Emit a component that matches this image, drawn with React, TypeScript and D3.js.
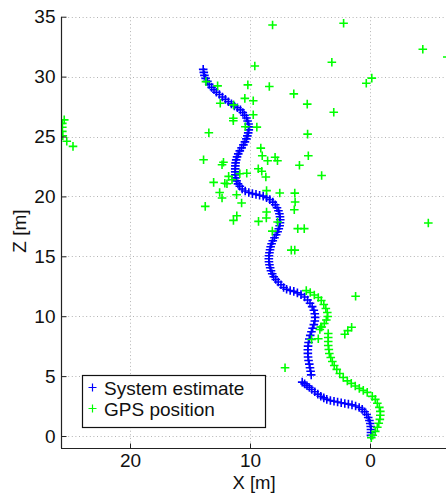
import { useEffect, useRef } from "react";
import * as d3 from "d3";

// System estimate trajectory, [X, Z] in metres
const estimateTrack1: [number, number][] = [
  [13.9, 30.6], [13.85, 30.35], [13.8, 30.1], [13.7, 29.85], [13.55, 29.6], [13.4, 29.35],
  [13.2, 29.1], [13.0, 28.9], [12.8, 28.7], [12.55, 28.5], [12.3, 28.3], [12.05, 28.1],
  [11.8, 27.9], [11.55, 27.72], [11.3, 27.55], [11.05, 27.4], [10.8, 27.22], [10.6, 27.0],
  [10.45, 26.78], [10.3, 26.55], [10.2, 26.3], [10.12, 26.05], [10.1, 25.8], [10.1, 25.55],
  [10.15, 25.3], [10.22, 25.05], [10.3, 24.8], [10.42, 24.55], [10.55, 24.3], [10.7, 24.05],
  [10.85, 23.8], [10.98, 23.55], [11.08, 23.3], [11.15, 23.05], [11.2, 22.8], [11.22, 22.55],
  [11.23, 22.3], [11.23, 22.05], [11.22, 21.8], [11.2, 21.55], [11.12, 21.3], [11.0, 21.05],
  [10.85, 20.85], [10.65, 20.62], [10.4, 20.45], [10.1, 20.32], [9.8, 20.23], [9.5, 20.17],
  [9.2, 20.1], [8.9, 20.02], [8.62, 19.9], [8.35, 19.73], [8.1, 19.52], [7.9, 19.3],
  [7.75, 19.05], [7.63, 18.8], [7.55, 18.55], [7.5, 18.3], [7.48, 18.05], [7.5, 17.8],
  [7.53, 17.55], [7.6, 17.3], [7.7, 17.05], [7.82, 16.8], [7.96, 16.55], [8.1, 16.3],
  [8.2, 16.05], [8.28, 15.8], [8.33, 15.55], [8.38, 15.3], [8.42, 15.05], [8.43, 14.8],
  [8.42, 14.55], [8.38, 14.3], [8.32, 14.05], [8.25, 13.8], [8.15, 13.55], [8.02, 13.3],
  [7.85, 13.07], [7.65, 12.85], [7.42, 12.62], [7.2, 12.4], [6.95, 12.25], [6.65, 12.15],
  [6.35, 12.07], [6.05, 11.95], [5.75, 11.8], [5.45, 11.6], [5.2, 11.35], [5.0, 11.08],
  [4.82, 10.8], [4.68, 10.5], [4.6, 10.2], [4.57, 9.9], [4.6, 9.6], [4.68, 9.3],
  [4.78, 9.0], [4.88, 8.7], [4.98, 8.4], [5.06, 8.1], [5.12, 7.8], [5.16, 7.5],
  [5.18, 7.2], [5.18, 6.9], [5.16, 6.6], [5.12, 6.3], [5.06, 6.0], [5.0, 5.7],
  [4.95, 5.4], [4.9, 5.1],
];
const estimateTrack2: [number, number][] = [
  [5.65, 4.5], [5.45, 4.35], [5.25, 4.2], [5.05, 4.05], [4.85, 3.88], [4.6, 3.7],
  [4.35, 3.5], [4.1, 3.32], [3.85, 3.18], [3.6, 3.06], [3.3, 2.97], [3.0, 2.9],
  [2.7, 2.84], [2.4, 2.78], [2.1, 2.72], [1.8, 2.66], [1.5, 2.6], [1.2, 2.5],
  [0.9, 2.38], [0.65, 2.22], [0.45, 2.02], [0.28, 1.8], [0.15, 1.55], [0.05, 1.3],
  [-0.02, 1.05], [-0.06, 0.8], [-0.08, 0.55], [-0.08, 0.3], [-0.08, 0.05],
];

// GPS fixes, [X, Z]
const gpsTrack: [number, number][] = [
  [5.31, 12.14], [4.98, 11.98], [4.64, 11.77], [4.31, 11.56], [4.06, 11.31], [3.85, 10.98],
  [3.68, 10.64], [3.56, 10.31], [3.52, 9.98], [3.64, 9.68], [3.81, 9.39], [4.02, 9.1],
  [4.18, 8.89], [3.48, 8.56], [3.48, 8.22], [3.48, 7.89], [3.48, 7.56], [3.43, 7.22],
  [3.39, 6.89], [3.27, 6.56], [3.14, 6.22], [2.98, 5.89], [2.77, 5.56], [2.52, 5.22],
  [2.23, 4.89], [1.89, 4.6], [1.56, 4.39], [1.23, 4.18], [0.89, 3.98], [0.56, 3.81],
  [0.23, 3.64], [-0.19, 3.31], [-0.44, 3.06], [-0.61, 2.73], [-0.78, 2.39], [-0.86, 2.06],
  [-0.86, 1.73], [-0.82, 1.39], [-0.73, 1.06], [-0.61, 0.73], [-0.44, 0.39], [-0.23, 0.06],
  [-0.11, -0.15],
];
const gpsScatter: [number, number][] = [
  [8.12, 34.31], [2.2, 34.45], [-4.4, 32.28], [-6.44, 31.64], [3.18, 31.2], [9.6, 30.89],
  [-0.15, 29.87], [0.31, 29.45], [10.18, 29.31], [8.39, 29.18], [6.35, 28.56], [5.23, 27.7],
  [3.02, 27.03], [10.43, 28.18], [9.73, 27.98], [9.73, 26.81], [9.43, 25.78], [11.39, 26.53],
  [11.39, 26.31], [10.39, 25.81], [5.2, 25.2], [9.1, 24.03], [8.98, 23.39], [7.91, 23.27],
  [7.71, 22.98], [8.53, 22.98], [5.14, 23.39], [5.88, 22.6], [4.03, 21.75], [9.31, 22.31],
  [9.02, 22.1], [8.68, 21.62], [10.27, 21.93], [10.85, 21.89], [12.21, 22.85], [11.78, 21.67],
  [12.1, 21.1], [13.03, 21.17], [12.33, 22.64], [11.5, 21.39], [11.12, 20.14], [8.62, 20.48],
  [7.52, 20.28], [6.27, 20.27], [6.24, 19.53], [6.31, 18.89], [10.7, 19.45], [8.62, 18.7],
  [8.64, 18.2], [11.1, 18.39], [11.38, 18.0], [9.29, 17.92], [7.7, 17.87], [8.14, 17.1],
  [6.02, 17.31], [5.48, 17.31], [-4.86, 17.78], [6.56, 15.52], [6.27, 15.52], [13.67, 29.58],
  [12.7, 29.23], [12.48, 27.78], [11.37, 27.64], [13.43, 25.31], [13.87, 23.06], [13.73, 19.17],
  [12.53, 20.33], [12.33, 19.87], [11.92, 21.06],
  [25.48, 26.39], [25.64, 26.1], [25.64, 25.77], [25.64, 25.43], [25.6, 25.06], [25.27, 24.6],
  [24.75, 24.18],
  [1.2, 11.67], [1.53, 9.08], [1.85, 8.8], [2.1, 8.5], [4.87, 8.06], [4.31, 8.12],
  [4.1, 9.1], [7.08, 5.7],
];

const xTicks = [20, 10, 0];
const yTicks = [0, 5, 10, 15, 20, 25, 30, 35];
const legendItems = [
  { label: "System estimate", color: "#0000ff" },
  { label: "GPS position", color: "#00ff00" },
];

const FONT = "'Liberation Sans', Arial, Helvetica, sans-serif";
const FS = 19;

export default function App() {
  const ref = useRef<SVGSVGElement | null>(null);

  useEffect(() => {
    if (!ref.current) return;
    const svg = d3.select(ref.current);
    svg.selectAll("*").remove();

    const left = 61, right = 448, top = 16.7, bottom = 448;
    const x = d3.scaleLinear().domain([25.75, -6.5]).range([left, right]);
    const y = d3.scaleLinear().domain([-1, 35]).range([bottom, top]);

    svg.append("defs").append("clipPath").attr("id", "plotclip")
      .append("rect").attr("x", left).attr("y", top)
      .attr("width", right - left).attr("height", bottom - top);

    // grid
    const grid = svg.append("g").attr("stroke", "#b4b4b4").attr("stroke-width", 1)
      .attr("stroke-dasharray", "1,2.6");
    grid.selectAll("line.gx").data(xTicks).join("line")
      .attr("x1", d => Math.round(x(d)) + 0.5).attr("x2", d => Math.round(x(d)) + 0.5)
      .attr("y1", top).attr("y2", bottom);
    grid.selectAll("line.gy").data(yTicks).join("line")
      .attr("y1", d => Math.round(y(d)) + 0.5).attr("y2", d => Math.round(y(d)) + 0.5)
      .attr("x1", left).attr("x2", right);

    const plus = "M-4.3,0H4.3M0,-4.3V4.3";
    const marks = svg.append("g").attr("clip-path", "url(#plotclip)");
    const drawSet = (pts: [number, number][], color: string) =>
      marks.append("g").selectAll("path").data(pts).join("path")
        .attr("d", plus)
        .attr("transform", d => `translate(${x(d[0])},${y(d[1])})`)
        .attr("stroke", color).attr("stroke-width", 1.6).attr("fill", "none");
    drawSet(estimateTrack1, "#0000ff");
    drawSet(estimateTrack2, "#0000ff");
    drawSet(gpsTrack, "#00ff00");
    drawSet(gpsScatter, "#00ff00");

    // axes
    const xAxis = svg.append("g").attr("transform", `translate(0,${Math.round(bottom) + 0.5})`)
      .call(d3.axisBottom(x).tickValues(xTicks).tickSizeInner(-5).tickSizeOuter(0).tickPadding(5));
    const yAxis = svg.append("g").attr("transform", `translate(${Math.round(left) + 0.5},0)`)
      .call(d3.axisLeft(y).tickValues(yTicks).tickSizeInner(-5).tickSizeOuter(0).tickPadding(6));
    [xAxis, yAxis].forEach(a => {
      a.select(".domain").attr("stroke", "#222").attr("stroke-width", 1.2);
      a.selectAll(".tick line").attr("stroke", "#222");
      a.selectAll("text").attr("font-family", FONT).attr("font-size", FS).attr("fill", "#111");
    });
    xAxis.select(".domain").attr("d", `M${left},0H${right}`);
    yAxis.select(".domain").attr("d", `M0,${bottom}V${top}`);

    svg.append("text").attr("x", 254).attr("y", 488.5).attr("text-anchor", "middle")
      .attr("font-family", FONT).attr("font-size", 18.5).attr("fill", "#111").text("X [m]");
    svg.append("text").attr("transform", "translate(26,231) rotate(-90)").attr("text-anchor", "middle")
      .attr("font-family", FONT).attr("font-size", FS).attr("fill", "#111").text("Z [m]");

    // legend
    const lg = svg.append("g");
    lg.append("rect").attr("x", 82.5).attr("y", 375.5).attr("width", 183).attr("height", 52)
      .attr("fill", "#fff").attr("stroke", "#111").attr("stroke-width", 1.2);
    legendItems.forEach((it, i) => {
      const cy = 387.5 + i * 21;
      lg.append("path").attr("d", "M-4,0H4M0,-4V4").attr("transform", `translate(92.5,${cy})`)
        .attr("stroke", it.color).attr("stroke-width", 1.2).attr("fill", "none");
      lg.append("text").attr("x", 104).attr("y", cy + 7.5)
        .attr("font-family", FONT).attr("font-size", FS).attr("fill", "#111").text(it.label);
    });
  }, []);

  return (
    <svg ref={ref} width={446} height={493}
      style={{ position: "absolute", left: 0, top: 0, background: "#fff" }}
      role="img" aria-label="System estimate vs GPS position" />
  );
}
